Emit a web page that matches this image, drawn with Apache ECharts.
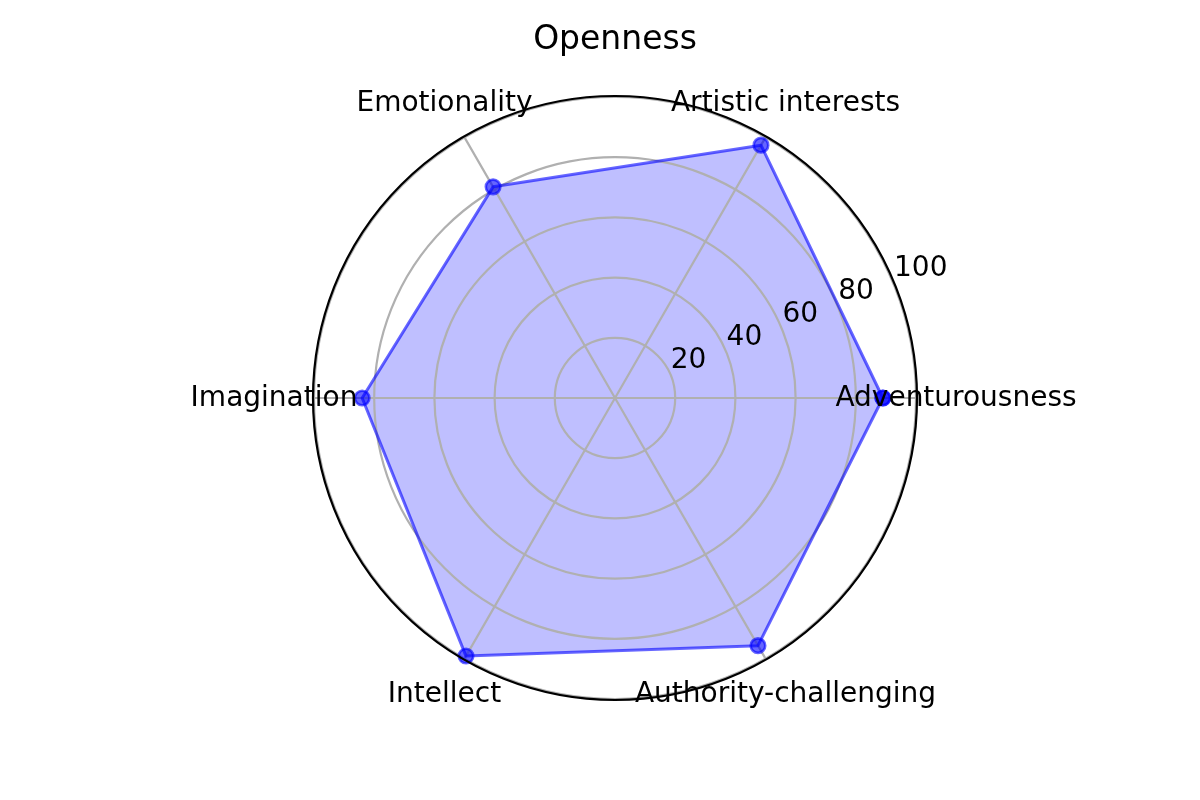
<!DOCTYPE html>
<html>
<head>
<meta charset="utf-8">
<script src="https://cdn.jsdelivr.net/npm/echarts@6/dist/echarts.min.js"></script>
<style>html,body{margin:0;padding:0;background:#fff;}#c{width:1200px;height:800px;}</style>
</head>
<body>
<div id="c"></div>
<script>
const titleText = 'Openness';
const categories = ['Adventurousness', 'Artistic interests', 'Emotionality', 'Imagination', 'Intellect', 'Authority-challenging'];
const values = [89, 97, 81, 84, 99, 95];
const radialTickLabels = [20, 40, 60, 80, 100];
const radialMax = 100;

const FONT = 'DejaVu Sans';
const CX = 615, CY = 398, R = 301;

const markerStyle = {color: 'rgba(0,0,255,0.6)', borderColor: 'rgba(0,0,255,0.6)', borderWidth: 2.6, opacity: 1};

const chart = echarts.init(document.getElementById('c'), null, {renderer: 'canvas'});
chart.setOption({
  animation: false,
  backgroundColor: '#ffffff',
  title: {
    text: titleText,
    left: CX - 5,
    top: 19,
    textAlign: 'center',
    textStyle: {fontFamily: FONT, fontSize: 33, fontWeight: 'normal', color: '#000'}
  },
  radar: {
    z: 2,
    center: [CX, CY],
    radius: R,
    startAngle: 0,
    shape: 'circle',
    splitNumber: radialTickLabels.length,
    indicator: categories.map(c => ({name: c, min: 0, max: radialMax})),
    axisName: {show: false},
    axisLine: {lineStyle: {color: '#b0b0b0', width: 2.2}},
    splitLine: {lineStyle: {color: '#b0b0b0', width: 2.2}},
    splitArea: {show: false},
    axisTick: {show: false},
    axisLabel: {show: false}
  },
  polar: [
    {center: [CX, CY], radius: R + 1},
    {center: [CX, CY], radius: R + 40},
    {center: [CX, CY], radius: R}
  ],
  angleAxis: [
    {
      polarIndex: 0, type: 'value', min: 0, max: 360, startAngle: 22.5, z: 5,
      axisLine: {show: true, lineStyle: {color: '#000', width: 2.2}},
      axisTick: {show: false}, axisLabel: {show: false}, splitLine: {show: false}
    },
    {
      polarIndex: 1, type: 'category', data: categories, boundaryGap: false,
      startAngle: 0, clockwise: false, show: false
    },
    {
      polarIndex: 2, type: 'category', data: categories, boundaryGap: false,
      startAngle: 0, clockwise: false, show: false
    }
  ],
  radiusAxis: [
    {
      polarIndex: 0, min: 0, max: radialMax, interval: 20, z: 5,
      axisLine: {show: false}, axisTick: {show: false}, splitLine: {show: false},
      axisLabel: {
        show: true, margin: 0, align: 'left', verticalAlign: 'bottom',
        fontFamily: FONT, fontSize: 28, color: '#000',
        formatter: v => radialTickLabels.indexOf(v) >= 0 ? String(v) : ''
      }
    },
    {polarIndex: 1, min: 0, max: radialMax, show: false},
    {polarIndex: 2, min: 0, max: radialMax, show: false}
  ],
  series: [
    {
      type: 'radar',
      z: 1,
      symbol: 'none',
      data: [{value: values, name: titleText}],
      lineStyle: {width: 0, opacity: 0},
      areaStyle: {color: 'rgba(0,0,255,0.25)', opacity: 1}
    },
    {
      type: 'radar',
      z: 3,
      symbol: 'circle',
      symbolSize: 14.5,
      data: [{value: values, name: titleText}],
      lineStyle: {color: 'rgba(0,0,255,0.6)', width: 3, opacity: 1},
      itemStyle: markerStyle
    },
    {
      type: 'scatter',
      coordinateSystem: 'polar',
      polarIndex: 2,
      symbol: 'circle',
      symbolSize: 14.5,
      data: [[values[0], categories[0]]],
      itemStyle: markerStyle,
      z: 4
    },
    {
      type: 'scatter',
      coordinateSystem: 'polar',
      polarIndex: 1,
      symbolSize: 0,
      itemStyle: {opacity: 1},
      data: categories.map(c => ({name: c, value: [radialMax, c]})),
      label: {
        show: true, position: 'top', distance: 0, align: 'center', verticalAlign: 'middle',
        offset: [0, 1],
        formatter: '{b}', opacity: 1,
        fontFamily: FONT, fontSize: 28, color: '#000000'
      },
      z: 10
    }
  ]
});
</script>
</body>
</html>
